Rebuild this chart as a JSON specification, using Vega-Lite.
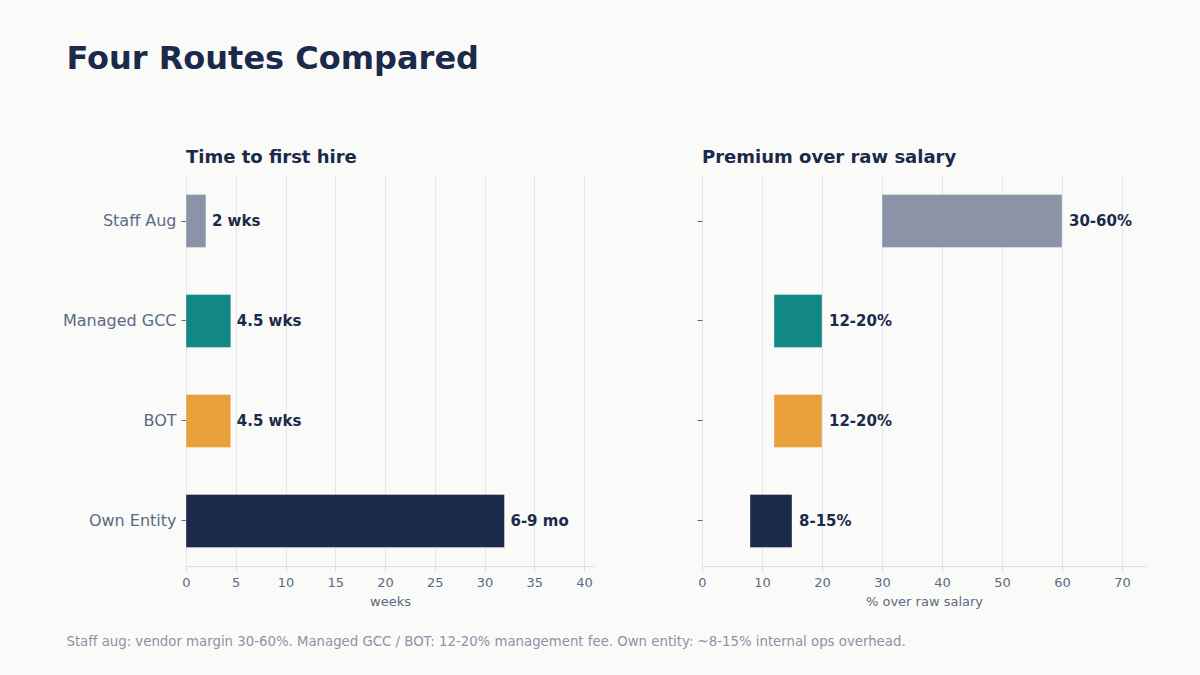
{
  "$schema": "https://vega.github.io/schema/vega-lite/v6.json",
  "background": "#FAFAF8",
  "padding": {"left": 62, "top": 43, "right": 54, "bottom": 28},
  "title": {
    "text": "Four Routes Compared",
    "anchor": "start",
    "frame": "bounds",
    "dx": 4,
    "fontSize": 32,
    "fontWeight": "bold",
    "font": "DejaVu Sans",
    "color": "#1B2A4A",
    "offset": 73
  },
  "data": {
    "values": [
      {"route": "Staff Aug", "weeks": 2, "weeks_label": "2 wks", "prem_lo": 30, "prem_hi": 60, "prem_label": "30-60%"},
      {"route": "Managed GCC", "weeks": 4.5, "weeks_label": "4.5 wks", "prem_lo": 12, "prem_hi": 20, "prem_label": "12-20%"},
      {"route": "BOT", "weeks": 4.5, "weeks_label": "4.5 wks", "prem_lo": 12, "prem_hi": 20, "prem_label": "12-20%"},
      {"route": "Own Entity", "weeks": 32, "weeks_label": "6-9 mo", "prem_lo": 8, "prem_hi": 15, "prem_label": "8-15%"}
    ]
  },
  "vconcat": [
    {
      "title": {
        "text": "Staff aug: vendor margin 30-60%. Managed GCC / BOT: 12-20% management fee. Own entity: ~8-15% internal ops overhead.",
        "orient": "bottom",
        "anchor": "start",
        "frame": "bounds",
        "dx": 4,
        "fontSize": 13.3,
        "fontWeight": "normal",
        "font": "DejaVu Sans",
        "color": "#8B93A7",
        "offset": 27
      },
      "spacing": 102,
      "hconcat": [
        {
          "width": 408,
          "height": 390,
          "title": {"text": "Time to first hire"},
          "encoding": {
            "y": {
              "field": "route",
              "type": "nominal",
              "sort": ["Staff Aug", "Managed GCC", "BOT", "Own Entity"],
              "scale": {"paddingInner": 0.47, "paddingOuter": 0.185},
              "axis": {"title": null, "labelFontSize": 16, "labelColor": "#5A6A85", "labelPadding": 5}
            }
          },
          "layer": [
            {
              "mark": {"type": "bar", "stroke": "#FFFFFF", "strokeOpacity": 0.35, "strokeWidth": 1},
              "encoding": {
                "x": {
                  "field": "weeks",
                  "type": "quantitative",
                  "scale": {"domain": [0, 41], "nice": false},
                  "axis": {"title": "weeks", "values": [0, 5, 10, 15, 20, 25, 30, 35, 40]}
                },
                "color": {
                  "field": "route",
                  "type": "nominal",
                  "scale": {
                    "domain": ["Staff Aug", "Managed GCC", "BOT", "Own Entity"],
                    "range": ["#8B93A7", "#128885", "#E9A03B", "#1B2A4A"]
                  },
                  "legend": null
                }
              }
            },
            {
              "mark": {"type": "text", "align": "left", "baseline": "middle", "dx": 6, "fontSize": 15, "fontWeight": "bold", "font": "DejaVu Sans", "color": "#1B2A4A"},
              "encoding": {
                "x": {"field": "weeks", "type": "quantitative"},
                "text": {"field": "weeks_label"}
              }
            }
          ]
        },
        {
          "width": 444,
          "height": 390,
          "title": {"text": "Premium over raw salary"},
          "encoding": {
            "y": {
              "field": "route",
              "type": "nominal",
              "sort": ["Staff Aug", "Managed GCC", "BOT", "Own Entity"],
              "scale": {"paddingInner": 0.47, "paddingOuter": 0.185},
              "axis": {"title": null, "labels": false}
            }
          },
          "layer": [
            {
              "mark": {"type": "bar", "stroke": "#FFFFFF", "strokeOpacity": 0.35, "strokeWidth": 1},
              "encoding": {
                "x": {
                  "field": "prem_lo",
                  "type": "quantitative",
                  "scale": {"domain": [0, 74], "nice": false},
                  "axis": {"title": "% over raw salary", "values": [0, 10, 20, 30, 40, 50, 60, 70]}
                },
                "x2": {"field": "prem_hi"},
                "color": {
                  "field": "route",
                  "type": "nominal",
                  "scale": {
                    "domain": ["Staff Aug", "Managed GCC", "BOT", "Own Entity"],
                    "range": ["#8B93A7", "#128885", "#E9A03B", "#1B2A4A"]
                  },
                  "legend": null
                }
              }
            },
            {
              "mark": {"type": "text", "align": "left", "baseline": "middle", "dx": 7, "fontSize": 15, "fontWeight": "bold", "font": "DejaVu Sans", "color": "#1B2A4A"},
              "encoding": {
                "x": {"field": "prem_hi", "type": "quantitative"},
                "text": {"field": "prem_label"}
              }
            }
          ]
        }
      ]
    }
  ],
  "config": {
    "font": "DejaVu Sans",
    "view": {"stroke": null},
    "title": {
      "anchor": "start",
      "frame": "group",
      "fontSize": 18,
      "fontWeight": "bold",
      "color": "#1B2A4A",
      "offset": 9
    },
    "axisX": {
      "grid": true,
      "gridColor": "#E3E5EE",
      "gridWidth": 1,
      "domainColor": "#D9DCE6",
      "tickColor": "#D9DCE6",
      "tickSize": 5,
      "labelFontSize": 13,
      "labelColor": "#5A6A85",
      "labelFlush": false,
      "labelPadding": 5,
      "titleFontSize": 13,
      "titleFontWeight": "normal",
      "titleColor": "#5A6A85",
      "titlePadding": 6
    },
    "axisY": {
      "grid": false,
      "domain": false,
      "ticks": true,
      "tickColor": "#5A6A85",
      "tickSize": 5
    }
  }
}
